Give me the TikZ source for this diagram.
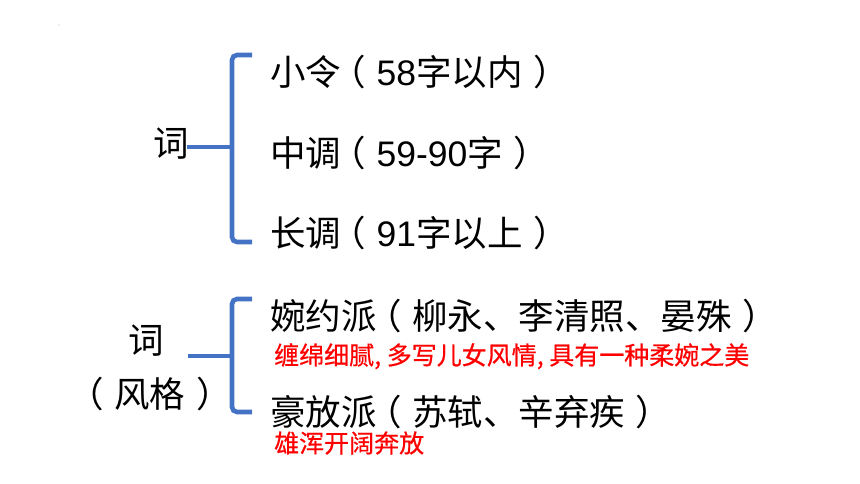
\documentclass[tikz,border=0pt]{standalone}
\usepackage{fontspec}
\setmainfont{Liberation Sans}
\newfontfamily\cjk{Noto Sans CJK SC}
\newfontfamily\cjkred[FakeBold=0.6]{Noto Sans CJK SC}
\newcommand\LPz{\makebox[1em][l]{\hspace{-0.3em}\cjk （}}
\newcommand\RPz{\makebox[1em][l]{\hspace{0.3em}\cjk ）}}
\definecolor{bracecol}{HTML}{4472C4}
\definecolor{redtext}{HTML}{FF0000}
\tikzset{
  brace/.style={draw=bracecol, line width=4.6pt, rounded corners=5pt},
  stem/.style={draw=bracecol, line width=4.6pt},
  maintext/.style={inner sep=0pt, anchor=base west, font=\fontsize{35.5}{42}\selectfont},
  headtext/.style={inner sep=0pt, anchor=base, font=\fontsize{35.5}{42}\selectfont\cjk},
  notetext/.style={inner sep=0pt, anchor=base west, text=redtext, font=\fontsize{25}{30}\selectfont\cjkred},
}
\begin{document}
\begin{tikzpicture}[x=1pt,y=-1pt]
\useasboundingbox (0,0) rectangle (860,484);
\fill[gray!60] (59,25) circle (0.7);

% first group
\node[headtext] (ci1) at (171,157) {词};
\node[maintext] (xl) at (270,86) {{\cjk 小令}\LPz 58{\cjk 字以内}\RPz};
\node[maintext] (zd) at (270,167) {{\cjk 中调}\LPz 59-90{\cjk 字}\RPz};
\node[maintext] (cd) at (270,247) {{\cjk 长调}\LPz 91{\cjk 字以上}\RPz};
\coordinate (b1t) at (252,55);
\coordinate (b1m) at (232,147);
\coordinate (b1b) at (252,242);
\coordinate (s1) at (187,147);
\draw[brace] (b1t) -- (232,55) -- (b1m) -- (232,242) -- (b1b);
\draw[stem] (s1) -- (b1m);

% second group
\node[headtext] (ci2) at (146,353) {词};
\node[headtext] (fg) at (150,407) {\LPz 风格\RPz};
\node[maintext] (wy) at (270,329) {{\cjk 婉约派}\LPz{\cjk 柳永、李清照、晏殊}\RPz};
\node[notetext] (wyn) at (274,364.5) {缠绵细腻, 多写儿女风情, 具有一种柔婉之美};
\node[maintext] (hf) at (270,425) {{\cjk 豪放派}\LPz{\cjk 苏轼、辛弃疾}\RPz};
\node[notetext] (hfn) at (274,452.5) {雄浑开阔奔放};
\coordinate (b2t) at (252,299);
\coordinate (b2m) at (232,356);
\coordinate (b2b) at (252,412);
\coordinate (s2) at (188,356);
\draw[brace] (b2t) -- (232,299) -- (b2m) -- (232,412) -- (b2b);
\draw[stem] (s2) -- (b2m);
\end{tikzpicture}
\end{document}
